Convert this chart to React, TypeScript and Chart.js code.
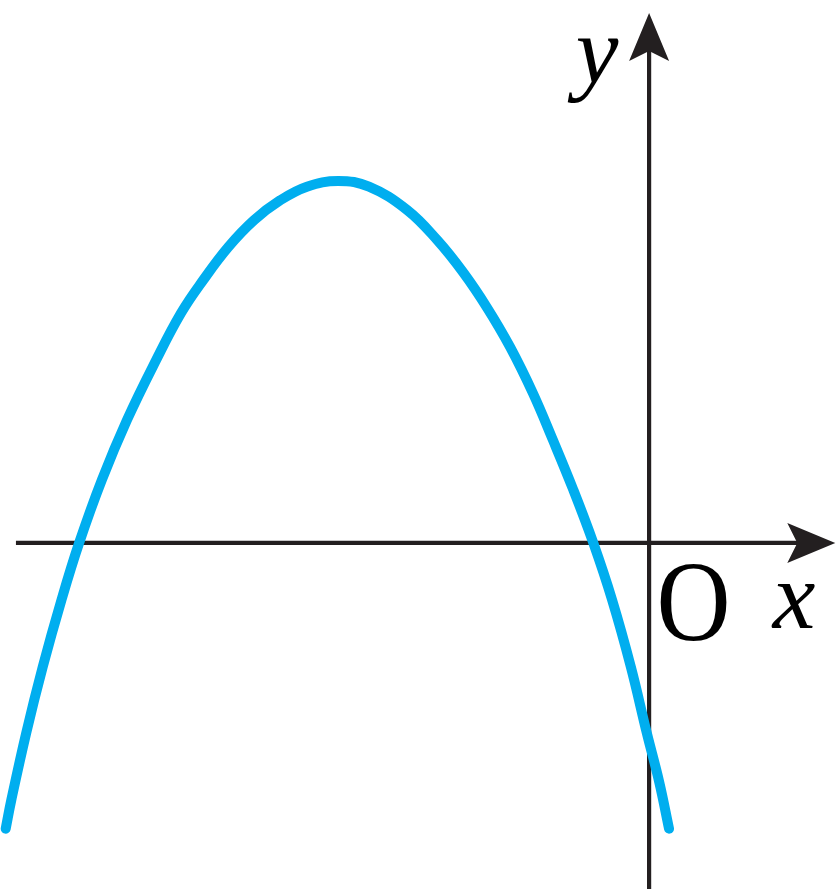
import React, { useEffect, useRef } from "react";
import { Chart, registerables } from "chart.js";

Chart.register(...registerables);

// Curve samples (units: origin at O)
const curveX = [
  -11.3, -11.2, -10.94, -10.65, -10.32, -10.01, -9.61, -9.17, -8.66, -8.22,
  -7.83, -7.39, -6.94, -6.48, -6.01, -5.46, -4.92, -4.25, -3.72, -3.27,
  -2.85, -2.44, -2.04, -1.69, -1.33, -0.98, -0.65, -0.32, -0.04, 0.18, 0.35,
];
const curveY = [
  -5.02, -4.51, -3.34, -2.18, -1.0, 0, 1.11, 2.16, 3.21, 4.04,
  4.62, 5.2, 5.67, 6.02, 6.26, 6.36, 6.26, 5.85, 5.32, 4.76,
  4.14, 3.44, 2.63, 1.81, 0.93, 0, -1.0, -2.18, -3.34, -4.21, -5.02,
];

// View window and axis extents (units)
const xRange = [-11.4, 3.3];
const yRange = [-6.08, 9.54];
const xAxisStart = -11.12;
const xAxisTip = 3.27;
const yAxisTip = 9.31;

// Labels
const originLabel = "O";
const xLabel = "x";
const yLabel = "y";

const AXIS_COLOR = "#231F20";
const CURVE_COLOR = "#00AEEF";
const BASE_PX = 32;
const FONT_R = `${BASE_PX}px "Liberation Serif"`;
const FONT_I = `italic ${BASE_PX}px "Liberation Serif"`;

function drawLabel(ctx: CanvasRenderingContext2D, text: string, font: string, cx: number, baseline: number, size: number, sx = 1) {
  const k = size / BASE_PX;
  ctx.save();
  ctx.translate(cx, baseline);
  ctx.scale(k * sx, k);
  ctx.font = font;
  ctx.textAlign = "center";
  ctx.textBaseline = "alphabetic";
  ctx.fillStyle = "#000";
  ctx.fillText(text, 0, 0);
  ctx.restore();
}

const axesPlugin = {
  id: "axesArrows",
  afterDraw(chart: any) {
    const { ctx, scales } = chart;
    const x0 = scales.x.getPixelForValue(0);
    const y0 = scales.y.getPixelForValue(0);
    const yt = scales.y.getPixelForValue(yAxisTip);
    drawLabel(ctx, originLabel, FONT_R, x0 + 44.5, y0 + 97, 114, 0.9);
    drawLabel(ctx, xLabel, FONT_I, x0 + 145, y0 + 85, 96);
    drawLabel(ctx, yLabel, FONT_I, x0 - 52, yt + 70, 96);
  },
  beforeDatasetsDraw(chart: any) {
    const { ctx, scales } = chart;
    const xs = scales.x;
    const ys = scales.y;
    const x0 = xs.getPixelForValue(0);
    const y0 = ys.getPixelForValue(0);
    const xl = xs.getPixelForValue(xAxisStart);
    const xt = xs.getPixelForValue(xAxisTip);
    const yt = ys.getPixelForValue(yAxisTip);
    const yb = ys.getPixelForValue(yRange[0]);
    const L = 48, W = 20, N = 10;
    ctx.save();
    ctx.strokeStyle = AXIS_COLOR;
    ctx.fillStyle = AXIS_COLOR;
    ctx.lineWidth = 4.2;
    ctx.beginPath();
    ctx.moveTo(xl, y0);
    ctx.lineTo(xt - L + N + 2, y0);
    ctx.stroke();
    ctx.beginPath();
    ctx.moveTo(xt, y0);
    ctx.lineTo(xt - L, y0 - W);
    ctx.lineTo(xt - L + N, y0);
    ctx.lineTo(xt - L, y0 + W);
    ctx.closePath();
    ctx.fill();
    ctx.beginPath();
    ctx.moveTo(x0, yb);
    ctx.lineTo(x0, yt + L - N - 2);
    ctx.stroke();
    ctx.beginPath();
    ctx.moveTo(x0, yt);
    ctx.lineTo(x0 - W, yt + L);
    ctx.lineTo(x0, yt + L - N);
    ctx.lineTo(x0 + W, yt + L);
    ctx.closePath();
    ctx.fill();
    ctx.restore();
  },
};

export default function App() {
  const ref = useRef<HTMLCanvasElement | null>(null);
  useEffect(() => {
    if (!ref.current) return;
    const chart = new Chart(ref.current, {
      type: "line",
      data: {
        datasets: [
          {
            data: curveX.map((x, i) => ({ x, y: curveY[i] })),
            borderColor: CURVE_COLOR,
            borderWidth: 10,
            borderCapStyle: "round",
            borderJoinStyle: "round",
            pointRadius: 0,
            fill: false,
            tension: 0.4,
            clip: false as any,
          },
        ],
      },
      options: {
        animation: false,
        responsive: false,
        layout: { padding: 0 },
        plugins: { legend: { display: false }, tooltip: { enabled: false } },
        scales: {
          x: { type: "linear", min: xRange[0], max: xRange[1], display: false },
          y: { type: "linear", min: yRange[0], max: yRange[1], display: false },
        },
      },
      plugins: [axesPlugin],
    });
    return () => chart.destroy();
  }, []);
  return (
    <div style={{ position: "fixed", left: 0, top: 0, width: 837, height: 889, background: "#fff" }}>
      <canvas ref={ref} width={837} height={889} style={{ display: "block" }} />
    </div>
  );
}
